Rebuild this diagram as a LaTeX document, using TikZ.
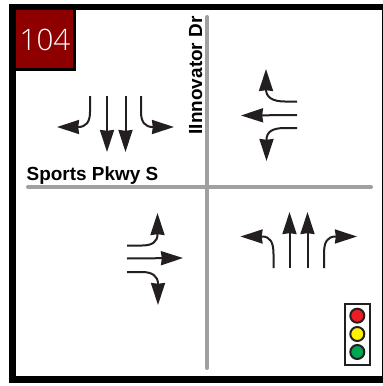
\documentclass[tikz,border=0pt]{standalone}
\usepackage{fontspec}
\setmainfont{Liberation Sans}
\newfontfamily\thinfont{Open Sans Light}
\usetikzlibrary{arrows.meta}
\definecolor{roadgray}{HTML}{A0A0A0}
\definecolor{boxred}{HTML}{8E0000}
\definecolor{arrowink}{HTML}{231F20}
\tikzset{
  x=1pt,y=-1pt,
  road/.style={line width=4pt,roadgray,line cap=round},
  lane/.style={line width=2pt,arrowink,-{Stealth[length=22pt,width=14pt,inset=0.8pt]}},
  lamp/.style={circle,draw=arrowink,line width=2pt,minimum size=14pt,inner sep=0pt},
  streetname/.style={font=\bfseries\fontsize{18.95}{20}\selectfont,inner sep=0pt,text=black},
}
\begin{document}
\begin{tikzpicture}
\useasboundingbox (0,0) rectangle (383,386);
\fill[white] (0,0) rectangle (383,386);
\fill[black] (9,3.5) rectangle (383,10);
\fill[black] (9,3.5) rectangle (16,383);
\fill[black] (9,376) rectangle (383,383);
\fill[black] (381.5,3.5) rectangle (383,383);
\draw[road] (207,17) -- (207,368);
\draw[road] (28,187) -- (371,187);
\fill[black] (16,10) rectangle (75.5,70.5);
\fill[boxred] (16,10) rectangle (73,67.5);
\node[text=white,inner sep=0pt,anchor=base,font=\thinfont\fontsize{29.5}{32}\selectfont] (num) at (45,50.5) {104};
\node[streetname,anchor=base west] (ew) at (26.5,180.5) {Sports Pkwy S};
\node[streetname,anchor=base west,rotate=90] (ns) at (202,134.5) {IInnovator Dr};
% southbound
\draw[lane] (90,96) -- (90,112) .. controls (90,122) and (86,127) .. (78,127) -- (57,127);
\draw[lane] (107,96) -- (107,152);
\draw[lane] (125.5,96) -- (125.5,152);
\draw[lane] (141,96) -- (141,112) .. controls (141,122) and (145,127) .. (153,127) -- (174,127);
% westbound
\draw[lane] (297,101.5) -- (285,101.5) .. controls (272,101.5) and (266,97) .. (266,89) -- (266,69);
\draw[lane] (297,115) -- (241,115.5);
\draw[lane] (297,128) -- (285,128) .. controls (272,128) and (266.5,132) .. (266.5,140) -- (266.5,161);
% eastbound
\draw[lane] (127,245.5) -- (142,245.5) .. controls (152,245.5) and (157.5,242) .. (157.5,234) -- (157.5,213);
\draw[lane] (127,258.5) -- (183,258);
\draw[lane] (127,272) -- (142,272) .. controls (152,272) and (158,276) .. (158,284) -- (158,305);
% northbound
\draw[lane] (273.5,268) -- (273.5,254) .. controls (273.5,242) and (270,236.5) .. (262,236.5) -- (240.5,236.5);
\draw[lane] (289.5,268) -- (289.5,212);
\draw[lane] (307.5,268) -- (307.5,212);
\draw[lane] (324,268) -- (324,254) .. controls (324,242) and (327,236.5) .. (336,236.5) -- (357,236.5);
% signal
\draw[arrowink,line width=2pt,fill=white] (345,304) rectangle (370,365);
\node[lamp,fill={rgb,255:red,237;green,28;blue,36}] (r) at (357.3,315.7) {};
\node[lamp,fill={rgb,255:red,255;green,242;blue,0}] (y) at (357.3,334) {};
\node[lamp,fill={rgb,255:red,0;green,166;blue,81}] (g) at (357.3,352) {};
\end{tikzpicture}
\end{document}
